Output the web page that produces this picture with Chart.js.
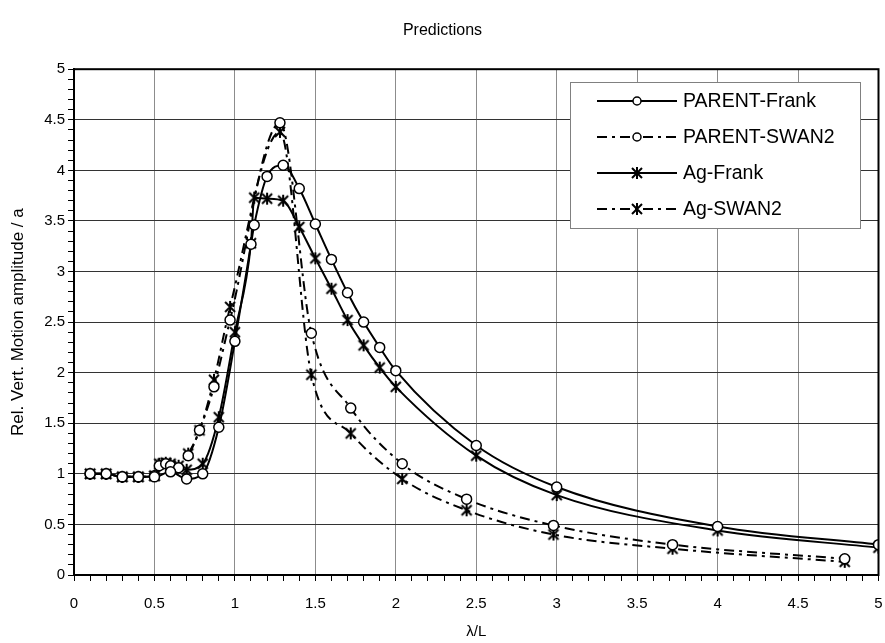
<!DOCTYPE html>
<html>
<head>
<meta charset="utf-8">
<script src="https://cdn.jsdelivr.net/npm/chart.js@4/dist/chart.umd.min.js"></script>
<style>
html, body { margin: 0; padding: 0; background: #fff; }
</style>
</head>
<body>
<canvas id="chart" width="885" height="643"></canvas>
<script>
// x = lambda/L, y = relative vertical motion amplitude
var xParentFrank = [0.1, 0.2, 0.3, 0.4, 0.5, 0.6, 0.7, 0.8, 0.9, 1.0, 1.1, 1.12, 1.2, 1.3, 1.4, 1.5, 1.6, 1.7, 1.8, 1.9, 2.0, 2.5, 3.0, 4.0, 5.0];
var yParentFrank = [1.0, 1.0, 0.97, 0.97, 0.97, 1.02, 0.95, 1.0, 1.46, 2.31, 3.27, 3.46, 3.94, 4.05, 3.82, 3.47, 3.12, 2.79, 2.50, 2.25, 2.02, 1.28, 0.87, 0.48, 0.30];

var xAgFrank = [0.1, 0.2, 0.3, 0.4, 0.5, 0.55, 0.6, 0.7, 0.8, 0.9, 1.0, 1.1, 1.12, 1.2, 1.3, 1.4, 1.5, 1.6, 1.7, 1.8, 1.9, 2.0, 2.5, 3.0, 4.0, 5.0];
var yAgFrank = [1.0, 1.0, 0.97, 0.97, 0.98, 1.1, 1.08, 1.04, 1.1, 1.56, 2.4, 3.28, 3.73, 3.72, 3.70, 3.44, 3.13, 2.83, 2.52, 2.27, 2.05, 1.86, 1.18, 0.79, 0.44, 0.27];

var xSwan = [0.1, 0.2, 0.3, 0.4, 0.5, 0.53, 0.57, 0.6, 0.65, 0.71, 0.78, 0.87, 0.97, 1.28, 1.475, 1.72, 2.04, 2.44, 2.98, 3.72, 4.79];
var yParentSwan = [1.0, 1.0, 0.97, 0.97, 0.98, 1.08, 1.1, 1.08, 1.06, 1.18, 1.43, 1.86, 2.52, 4.47, 2.39, 1.65, 1.10, 0.75, 0.49, 0.30, 0.16];
var yAgSwan = [1.0, 1.0, 0.97, 0.97, 0.98, 1.1, 1.11, 1.1, 1.08, 1.2, 1.43, 1.93, 2.65, 4.38, 1.98, 1.40, 0.95, 0.64, 0.40, 0.26, 0.13];

var seriesNames = ['PARENT-Frank', 'PARENT-SWAN2', 'Ag-Frank', 'Ag-SWAN2'];

var FONT = '"Liberation Sans", Arial, sans-serif';

function pts(xs, ys) {
    var out = [];
    for (var i = 0; i < xs.length; i++) out.push({ x: xs[i], y: ys[i] });
    return out;
}

// excel style star marker: an X with a vertical bar through it
function makeStar() {
    var c = document.createElement('canvas');
    c.width = 14;
    c.height = 14;
    var g = c.getContext('2d');
    g.strokeStyle = '#000';
    g.lineWidth = 2;
    g.beginPath();
    g.moveTo(2, 2); g.lineTo(12, 12);
    g.moveTo(12, 2); g.lineTo(2, 12);
    g.moveTo(7, 1); g.lineTo(7, 13);
    g.stroke();
    return c;
}
var starImg = makeStar();

Chart.defaults.font.family = FONT;
Chart.defaults.color = '#000';

function isMajor(v) {
    return Math.abs(v * 2 - Math.round(v * 2)) < 1e-6;
}

function series(name, data, dash, marker) {
    return {
        label: name,
        data: data,
        borderColor: '#000',
        borderWidth: 2,
        borderDash: dash,
        backgroundColor: '#fff',
        pointStyle: marker === 'star' ? starImg : 'circle',
        pointRadius: 5,
        pointBorderWidth: 1.5,
        pointBorderColor: '#000',
        pointBackgroundColor: '#fff',
        cubicInterpolationMode: 'monotone',
        fill: false
    };
}

// legend box drawn inside the plot area, like the original
var innerLegend = {
    id: 'innerLegend',
    afterDraw: function (chart) {
        var ctx = chart.ctx;
        var bx = 570, by = 82, bw = 290, bh = 146;
        ctx.save();
        ctx.fillStyle = '#fff';
        ctx.fillRect(bx, by, bw, bh);
        ctx.strokeStyle = '#808080';
        ctx.lineWidth = 1;
        ctx.strokeRect(bx + 0.5, by + 0.5, bw, bh);
        chart.data.datasets.forEach(function (ds, i) {
            var y = 101 + i * 36;
            ctx.strokeStyle = '#000';
            ctx.lineWidth = 2;
            ctx.setLineDash(ds.borderDash || []);
            ctx.beginPath();
            ctx.moveTo(597, y);
            ctx.lineTo(677, y);
            ctx.stroke();
            ctx.setLineDash([]);
            ctx.fillStyle = '#fff';
            ctx.lineWidth = 1.5;
            Chart.helpers.drawPoint(ctx, {
                pointStyle: ds.pointStyle,
                radius: 4,
                rotation: 0,
                borderWidth: 1.5
            }, 637, y);
            ctx.fillStyle = '#000';
            ctx.font = '19.5px ' + FONT;
            ctx.textBaseline = 'middle';
            ctx.fillText(ds.label, 683, y + 1);
        });
        ctx.restore();
    }
};

var frame = {
    id: 'frame',
    afterDatasetsDraw: function (chart) {
        var a = chart.chartArea;
        var ctx = chart.ctx;
        ctx.save();
        ctx.strokeStyle = '#000';
        ctx.lineWidth = 2;
        ctx.strokeRect(a.left, a.top, a.right - a.left, a.bottom - a.top);
        ctx.restore();
    }
};

var ctx = document.getElementById('chart').getContext('2d');
var chart = new Chart(ctx, {
    type: 'line',
    data: {
        datasets: [
            series(seriesNames[0], pts(xParentFrank, yParentFrank), [], 'circle'),
            series(seriesNames[1], pts(xSwan, yParentSwan), [10, 5, 3, 5], 'circle'),
            series(seriesNames[2], pts(xAgFrank, yAgFrank), [], 'star'),
            series(seriesNames[3], pts(xSwan, yAgSwan), [10, 5, 3, 5], 'star')
        ]
    },
    options: {
        responsive: false,
        animation: false,
        layout: { padding: { left: 0, right: 0, top: 0, bottom: 0 } },
        plugins: {
            legend: { display: false },
            tooltip: { enabled: false },
            title: {
                display: true,
                text: 'Predictions',
                font: { size: 16, weight: 'normal' },
                padding: { top: 21, bottom: 29 }
            }
        },
        scales: {
            x: {
                type: 'linear',
                min: 0,
                max: 5,
                afterFit: function (s) {
                    s.height = 68;
                    s.paddingLeft = 0;
                    s.paddingRight = 5;
                },
                border: { color: '#000', width: 2 },
                grid: {
                    color: function (c) { return isMajor(c.tick.value) ? '#8c8c8c' : 'rgba(0,0,0,0)'; },
                    tickColor: '#000',
                    tickLength: 6,
                    lineWidth: 1
                },
                ticks: {
                    stepSize: 0.1,
                    autoSkip: false,
                    maxRotation: 0,
                    padding: 14,
                    font: { size: 15 },
                    callback: function (v) { return isMajor(v) ? String(Math.round(v * 10) / 10) : ''; }
                },
                title: {
                    display: true,
                    text: 'λ/L',
                    font: { size: 15 },
                    padding: { top: 0, bottom: 2 }
                }
            },
            y: {
                min: 0,
                max: 5,
                afterFit: function (s) { s.width = 74; },
                border: { color: '#000', width: 2 },
                grid: {
                    color: function (c) { return isMajor(c.tick.value) ? '#333' : 'rgba(0,0,0,0)'; },
                    tickColor: '#000',
                    tickLength: 6,
                    lineWidth: 1
                },
                ticks: {
                    stepSize: 0.1,
                    autoSkip: false,
                    padding: 3,
                    font: { size: 15 },
                    callback: function (v) { return isMajor(v) ? String(Math.round(v * 10) / 10) : ''; }
                },
                title: {
                    display: true,
                    text: 'Rel. Vert. Motion amplitude / a',
                    font: { size: 17 },
                    padding: { top: 8, bottom: 0 }
                }
            }
        }
    },
    plugins: [frame, innerLegend]
});
</script>
</body>
</html>
